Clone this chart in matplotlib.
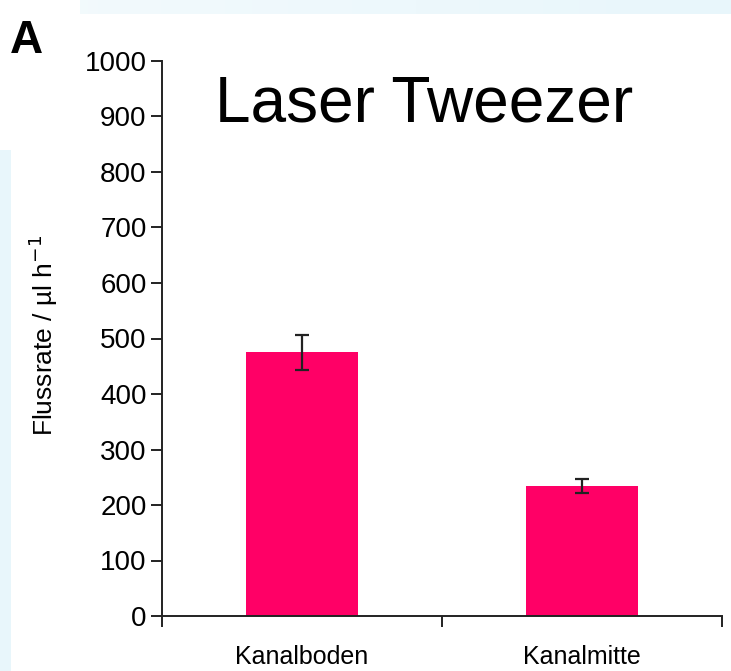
import numpy as np
import matplotlib
matplotlib.use("Agg")
import matplotlib.pyplot as plt

# Flow rate measurements
categories = ["Kanalboden", "Kanalmitte"]
flow_rate = [475, 234]
flow_err = [31, 12]
y_ticks = [0, 100, 200, 300, 400, 500, 600, 700, 800, 900, 1000]

plt.rcParams["font.family"] = ["Liberation Sans", "DejaVu Sans"]

W, H, DPI = 731, 671, 100
fig = plt.figure(figsize=(W / DPI, H / DPI), dpi=DPI)
fig.patch.set_facecolor("white")

# Soft slide-background bands along the top and left edges
bg = fig.add_axes([0, 0, 1, 1], zorder=-10)
bg.set_axis_off()
img = np.ones((H, W, 3))
blue = np.array([0.91, 0.965, 0.985])
xs = np.linspace(0, 1, W)
mix = 0.5 + 0.5 * xs[:, None]
top_col = blue[None, :] * mix + (1 - mix)
img[0:14, 80:, :] = top_col[80:][None, :, :]
img[150:, 0:11, :] = blue
bg.imshow(img, extent=[0, 1, 0, 1], aspect="auto")
bg.set_xlim(0, 1)
bg.set_ylim(0, 1)

left, right = 162 / W, 722 / W
bottom, top = (H - 616) / H, (H - 61) / H
ax = fig.add_axes([left, bottom, right - left, top - bottom])
ax.set_facecolor("none")

x = np.array([0.5, 1.5])
ax.bar(x, flow_rate, width=0.4, color="#FF0066", zorder=2)
ax.errorbar(x, flow_rate, yerr=flow_err, fmt="none", ecolor="#222222",
            elinewidth=1.6, capsize=4.7, capthick=1.6, zorder=3)

ax.set_xlim(0, 2)
ax.set_ylim(0, 1000)
ax.set_yticks(y_ticks)
ax.set_yticklabels([str(t) for t in y_ticks], fontsize=20)
ax.set_xticks([0, 1, 2])
ax.set_xticklabels([])
for xi, lab in zip(x, categories):
    ax.text(xi, -0.074, lab, transform=ax.get_xaxis_transform(),
            ha="center", va="center", fontsize=18)

for s in ["top", "right"]:
    ax.spines[s].set_visible(False)
for s in ["left", "bottom"]:
    ax.spines[s].set_color("#222222")
    ax.spines[s].set_linewidth(1.4)
ax.tick_params(axis="both", direction="out", length=8, width=1.4,
               color="#222222", pad=3)

ax.set_ylabel("Flussrate / µl h$^{-1}$", fontsize=19)
ax.yaxis.set_label_coords(-102 / (722 - 162), (616 - 335) / (616 - 61))

fig.text(215 / W, 1 - 105 / H, "Laser Tweezer", fontsize=46,
         ha="left", va="center")
fig.text(10 / W, 1 - 41 / H, "A", fontsize=33, fontweight="bold",
         ha="left", va="center")

fig.savefig("out.png", dpi=DPI)
